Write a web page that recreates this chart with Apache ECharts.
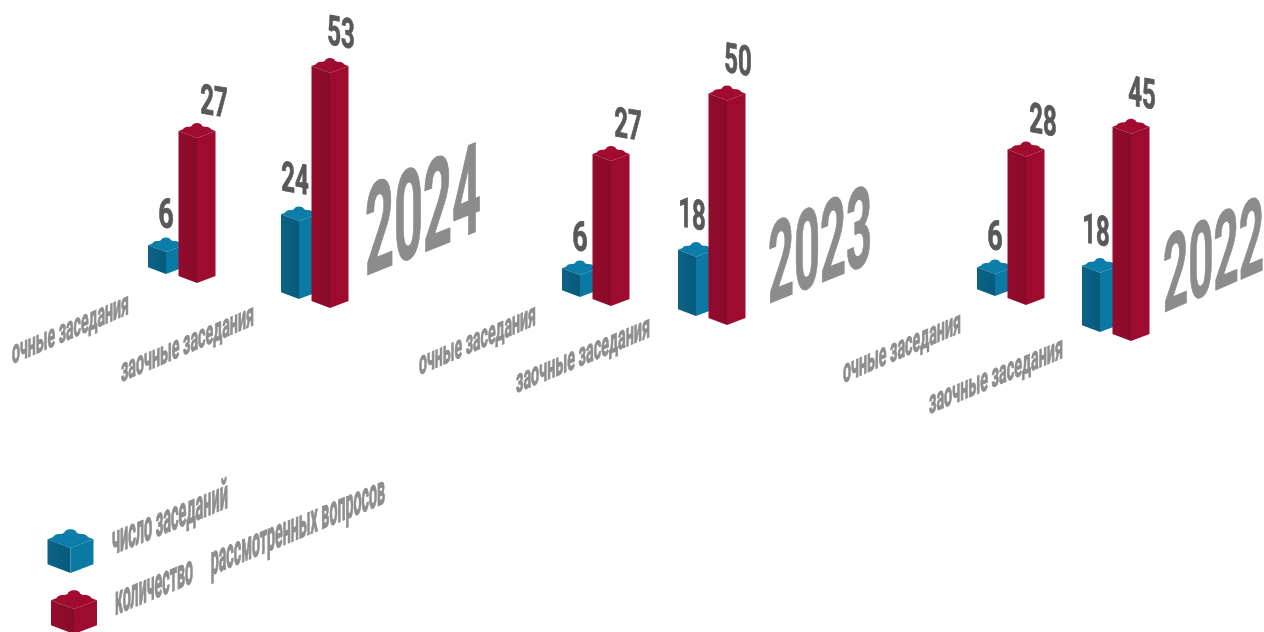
<!DOCTYPE html>
<html><head><meta charset="utf-8">
<style>html,body{margin:0;padding:0;background:#fff}#c{width:1264px;height:632px}</style>
<script src="https://cdn.jsdelivr.net/npm/echarts@6/dist/echarts.min.js"></script>
</head><body><div id="c"></div>
<script>
// ---- data ----
const years = ['2024', '2023', '2022'];
const sessionTypes = ['очные заседания', 'заочные заседания'];
const meetingCounts = [[6, 24], [6, 18], [6, 18]];
const questionCounts = [[27, 53], [27, 50], [28, 45]];
const legendLabels = ['число заседаний', 'количество     рассмотренных вопросов'];

// ---- layout / style ----
const FONT = '"Liberation Sans Narrow", Roboto, sans-serif';
const palette = [
  {l0: '#0a6386', l1: '#085a7c', r: '#0a7aa4', t: '#0a7ca7', s: '#0b7eaa'},
  {l0: '#930b2c', l1: '#880a2a', r: '#9d0b2e', t: '#9f0b2f', s: '#a10c30'}
];
const H = 280;
const axisSpec = [{min: -1.07, perUnit: 3.11}, {min: -14.9, perUnit: 3.46}];
const grids = [
  {left: 115, width: 266, foot: 283, tilt: 25},
  {left: 537.5, width: 232, foot: 306, tilt: 19},
  {left: 958, width: 210, foot: 305, tilt: 36}
];
const labelShift = [[[0, -28], [-4, -32]], [[17, -26], [11, -30]]];
const yearPos = [
  {x: 365, y: 276, w: 116, h: 90, k: 0.40},
  {x: 768, y: 304, w: 104, h: 80, k: 0.40},
  {x: 1163, y: 313, w: 101, h: 76, k: 0.43}
];
const catPos = [
  [{x: 12, y: 364, w: 117, k: 0.43}, {x: 121, y: 382, w: 133, k: 0.43}],
  [{x: 419, y: 375, w: 117, k: 0.43}, {x: 516, y: 393, w: 134, k: 0.42}],
  [{x: 843, y: 383, w: 118, k: 0.43}, {x: 929, y: 414, w: 134, k: 0.42}]
];
const legendPos = [
  {x: 112, y: 555, w: 116, k: 0.41, bx: 70.5, by: 573, bh: 25},
  {x: 115, y: 615, w: 270, k: 0.415, bx: 74, by: 634, bh: 25}
];

const mctx = document.createElement('canvas').getContext('2d');
function textW(text, font) { mctx.font = font; return mctx.measureText(text).width; }

// affine [[sx,0],[-k*sx,sy]] split into rotation/scale/rotation so that zrender can draw a shear
function sheared(text, x, y, size, sx, sy, k, fill, align, weight) {
  const A = sx, B = 0, C = -k * sx, D = sy;
  const E = (A + D) / 2, F = (A - D) / 2, G = (C + B) / 2, Hh = (C - B) / 2;
  const Q = Math.hypot(E, Hh), R = Math.hypot(F, G);
  const a1 = Math.atan2(G, F), a2 = Math.atan2(Hh, E);
  const theta = (a2 - a1) / 2, phi = (a2 + a1) / 2;
  return {
    type: 'group', x: x, y: y, rotation: -phi, scaleX: Q + R, scaleY: Q - R,
    children: [{
      type: 'text', rotation: -theta,
      style: {text: text, x: 0, y: 0, fill: fill, stroke: fill, lineWidth: weight || 0,
              font: 'bold ' + size + 'px ' + FONT,
              textAlign: align || 'left', textVerticalAlign: 'middle'}
    }]
  };
}
function fitted(text, x, yBase, w, capH, k, size, fill, weight) {
  const font = 'bold ' + size + 'px ' + FONT;
  const sx = w / textW(text, font), sy = capH / (size * 0.72);
  return sheared(text, x, yBase - capH * 0.35, size, sx, sy, k, fill, 'left', weight);
}

function brick(cx, footY, h, w, c) {
  const d = w * 0.38, f = w / 18.5;
  const b = footY - d, top = b - h;
  const els = [
    {type: 'polygon', shape: {points: [[cx - w, top], [cx, top - d], [cx + w, top], [cx, top + d]]}, style: {fill: c.t}},
    {type: 'polygon', shape: {points: [[cx - w, top], [cx, top + d], [cx, footY], [cx - w, b]]},
     style: {fill: {type: 'linear', x: 0, y: 0, x2: 1, y2: 0, colorStops: [{offset: 0, color: c.l0}, {offset: 1, color: c.l1}]}}},
    {type: 'polygon', shape: {points: [[cx, top + d], [cx + w, top], [cx + w, b], [cx, footY]]}, style: {fill: c.r}}
  ];
  [[0, -5], [-9, -1.2], [9, -1.2], [0, 2.6]].forEach(function (o) {
    els.push({type: 'ellipse', shape: {cx: cx + o[0] * f, cy: top + o[1] * f, rx: 5 * f, ry: 3 * f}, style: {fill: c.s}});
  });
  return els;
}

function barRenderer(g, m) {
  return function (params, api) {
    const cat = api.value(0), v = api.value(1);
    const cs = params.coordSys, base = cs.y + cs.height;
    const p = api.coord([cat, v]);
    const cx = p[0] + (m ? 15.5 : -15.5);
    const h = base - p[1];
    const foot = base + cat * grids[g].tilt - (m ? 0 : 9);
    const w = m ? 18.5 : 18;
    const els = brick(cx, foot, h, w, palette[m]);
    const top = foot - w * 0.38 - h;
    const s = labelShift[m][cat];
    els.push(sheared(String(v), cx + s[0], top + s[1], 30, String(v).length > 1 ? 0.8 : 0.9, 1.38, -0.17, '#58595b', 'center', 0.6));
    return {type: 'group', children: els};
  };
}

const gridOpts = [], xAxes = [], yAxes = [], series = [];
grids.forEach(function (gr, g) {
  gridOpts.push({left: gr.left, width: gr.width, top: gr.foot - H, height: H});
  xAxes.push({type: 'category', gridIndex: g, data: sessionTypes, show: false});
  axisSpec.forEach(function (a) {
    yAxes.push({type: 'value', gridIndex: g, show: false, min: a.min, max: a.min + H / a.perUnit});
  });
  [meetingCounts, questionCounts].forEach(function (vals, m) {
    series.push({
      type: 'custom', name: m ? 'количество рассмотренных вопросов' : 'число заседаний',
      xAxisIndex: g, yAxisIndex: g * 2 + m, animation: false, silent: true,
      encode: {x: 0, y: 1},
      data: vals[g].map(function (v, i) { return [i, v]; }),
      renderItem: barRenderer(g, m)
    });
  });
});

const graphics = [];
years.forEach(function (y, g) {
  const p = yearPos[g];
  graphics.push(fitted(y, p.x, p.y, p.w, p.h, p.k, 100, '#8c8c8c', 1));
  sessionTypes.forEach(function (t, i) {
    const q = catPos[g][i];
    graphics.push(fitted(t, q.x, q.y, q.w, 24, q.k, 28, '#8e8e8e', 0.9));
  });
});
legendLabels.forEach(function (t, i) {
  const q = legendPos[i];
  graphics.push(fitted(t, q.x, q.y, q.w, 30, q.k, 28, '#8e8e8e', 0.9));
  brick(q.bx, q.by, q.bh, 23, palette[i]).forEach(function (e) { graphics.push(e); });
});

const chart = echarts.init(document.getElementById('c'), null, {renderer: 'canvas'});
chart.setOption({
  backgroundColor: '#ffffff', animation: false,
  grid: gridOpts, xAxis: xAxes, yAxis: yAxes, series: series,
  graphic: {elements: graphics}
});
</script></body></html>
